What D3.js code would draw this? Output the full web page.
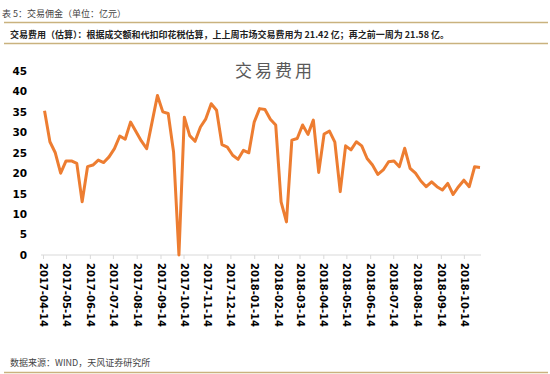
<!DOCTYPE html>
<html>
<head>
<meta charset="utf-8">
<script src="https://cdn.jsdelivr.net/npm/d3@7"></script>
<style>
  body { margin: 0; background: #fff; }
  svg { display: block; }
  .cn { font-family: "Noto Sans CJK SC", "Noto Sans", sans-serif; }
  .tick text { font-family: "DejaVu Sans", sans-serif; font-weight: bold; fill: #000; }
</style>
</head>
<body>
<div id="chart"></div>
<script>
// weekly dates (week ending), one per point
const dates = [
  "2017-04-16","2017-04-23","2017-04-30","2017-05-07","2017-05-14","2017-05-21","2017-05-28",
  "2017-06-04","2017-06-11","2017-06-18","2017-06-25","2017-07-02","2017-07-09","2017-07-16",
  "2017-07-23","2017-07-30","2017-08-06","2017-08-13","2017-08-20","2017-08-27","2017-09-03",
  "2017-09-10","2017-09-17","2017-09-24","2017-10-01","2017-10-08","2017-10-15","2017-10-22",
  "2017-10-29","2017-11-05","2017-11-12","2017-11-19","2017-11-26","2017-12-03","2017-12-10",
  "2017-12-17","2017-12-24","2017-12-31","2018-01-07","2018-01-14","2018-01-21","2018-01-28",
  "2018-02-04","2018-02-11","2018-02-18","2018-02-25","2018-03-04","2018-03-11","2018-03-18",
  "2018-03-25","2018-04-01","2018-04-08","2018-04-15","2018-04-22","2018-04-29","2018-05-06",
  "2018-05-13","2018-05-20","2018-05-27","2018-06-03","2018-06-10","2018-06-17","2018-06-24",
  "2018-07-01","2018-07-08","2018-07-15","2018-07-22","2018-07-29","2018-08-05","2018-08-12",
  "2018-08-19","2018-08-26","2018-09-02","2018-09-09","2018-09-16","2018-09-23","2018-09-30",
  "2018-10-07","2018-10-14","2018-10-21","2018-10-28","2018-11-04"
];

// 交易费用 (亿元)
const fees = [
  35.3, 27.7, 25.0, 20.0, 23.0, 23.0, 22.4,
  13.0, 21.6, 22.0, 23.2, 22.6, 24.0, 26.0,
  29.1, 28.3, 32.5, 30.2, 27.9, 26.0, 32.5,
  39.0, 35.0, 34.6, 25.2, 0.0, 33.7, 29.2,
  27.8, 31.3, 33.3, 37.0, 35.4, 27.0, 26.4,
  24.4, 23.4, 25.6, 25.0, 32.5, 35.8, 35.6,
  33.2, 31.8, 13.0, 8.1, 28.1, 28.5, 31.8,
  29.5, 33.0, 20.2, 29.6, 30.3, 27.6, 15.5,
  26.7, 25.7, 27.7, 26.7, 23.6, 22.0, 19.7,
  20.8, 22.8, 23.0, 21.6, 26.1, 21.2, 20.0,
  18.1, 16.7, 17.9, 16.7, 15.9, 17.5, 14.8,
  16.7, 18.3, 16.7, 21.58, 21.42
];

const xTickLabels = [
  "2017-04-14","2017-05-14","2017-06-14","2017-07-14","2017-08-14","2017-09-14",
  "2017-10-14","2017-11-14","2017-12-14","2018-01-14","2018-02-14","2018-03-14",
  "2018-04-14","2018-05-14","2018-06-14","2018-07-14","2018-08-14","2018-09-14","2018-10-14"
];
const yTicks = [0, 5, 10, 15, 20, 25, 30, 35, 40, 45];

const W = 550, H = 374;
const parse = d3.timeParse("%Y-%m-%d");
const gold = "#c9b27e";

const svg = d3.select("#chart").append("svg")
    .attr("width", W)
    .attr("height", H);

// header
svg.append("text").attr("class", "cn")
    .attr("x", 2).attr("y", 16.5)
    .style("font-size", "9px").style("fill", "#444")
    .text("表 5：交易佣金（单位：亿元）");

svg.append("line").attr("x1", 4).attr("x2", 548).attr("y1", 22.5).attr("y2", 22.5)
    .attr("stroke", gold).attr("stroke-width", 1.5);

svg.append("text").attr("class", "cn")
    .attr("x", 10).attr("y", 37.5)
    .style("font-size", "9px").style("font-weight", "bold").style("fill", "#222")
    .text("交易费用（估算）：根据成交额和代扣印花税估算，上上周市场交易费用为 21.42 亿；再之前一周为 21.58 亿。");

svg.append("line").attr("x1", 4).attr("x2", 548).attr("y1", 43.5).attr("y2", 43.5)
    .attr("stroke", gold).attr("stroke-width", 1.5);

// scales
const x = d3.scaleTime()
    .domain([parse("2017-04-14"), parse(dates[dates.length - 1])])
    .range([43, 480]);
const y = d3.scaleLinear().domain([0, 45]).range([255, 71]);

// chart title
svg.append("text").attr("class", "cn")
    .attr("x", 275).attr("y", 77)
    .attr("text-anchor", "middle")
    .style("font-size", "17px").style("letter-spacing", "3px").style("fill", "#595959")
    .text("交易费用");

// y axis labels
const yAxis = svg.append("g")
    .attr("transform", "translate(30,0)")
    .call(d3.axisLeft(y).tickValues(yTicks).tickSize(0).tickPadding(3));
yAxis.select(".domain").remove();
yAxis.selectAll("text").style("font-size", "10.5px");

// x axis
const xAxis = svg.append("g")
    .attr("transform", "translate(0,255)")
    .call(d3.axisBottom(x)
        .tickValues(xTickLabels.map(parse))
        .tickFormat(d3.timeFormat("%Y-%m-%d"))
        .tickSize(4)
        .tickSizeOuter(0));
xAxis.select(".domain").attr("d", `M41,0H481`).attr("stroke", "#d9d9d9");
xAxis.selectAll(".tick line").attr("stroke", "#d9d9d9");
xAxis.selectAll(".tick text")
    .style("font-size", "10px")
    .attr("text-anchor", "start")
    .attr("transform", "rotate(90)")
    .attr("x", 8)
    .attr("y", 0)
    .attr("dy", "0.35em");

// line
const line = d3.line()
    .x((d, i) => x(parse(dates[i])))
    .y(d => y(d));

svg.append("path")
    .datum(fees)
    .attr("fill", "none")
    .attr("stroke", "#ED7D31")
    .attr("stroke-width", 3)
    .attr("stroke-linejoin", "round")
    .attr("d", line);

// footer
svg.append("text").attr("class", "cn")
    .attr("x", 10).attr("y", 365.5)
    .style("font-size", "9px").style("fill", "#444")
    .text("数据来源：WIND，天风证券研究所");

svg.append("line").attr("x1", 4).attr("x2", 548).attr("y1", 372.5).attr("y2", 372.5)
    .attr("stroke", gold).attr("stroke-width", 1.5);
</script>
</body>
</html>
